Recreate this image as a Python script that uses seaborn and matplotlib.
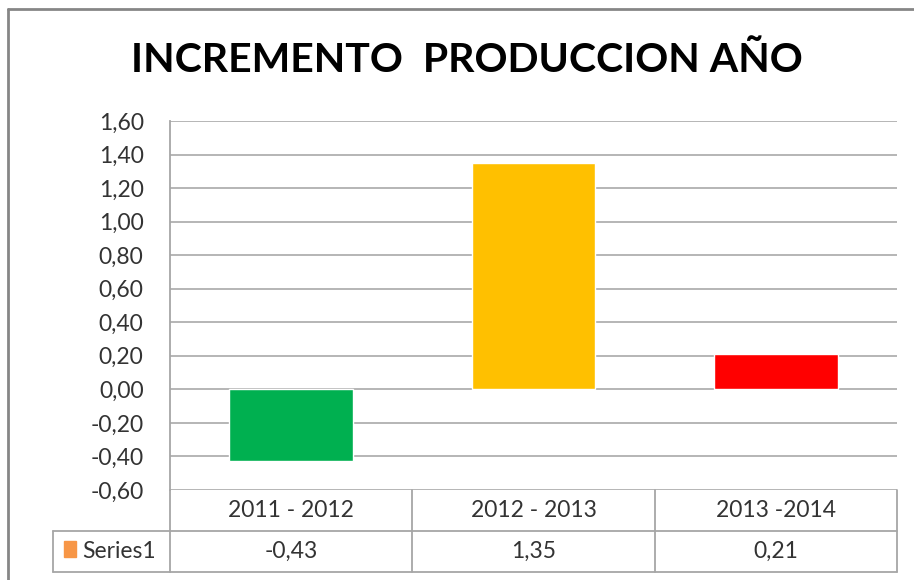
import matplotlib
matplotlib.use("Agg")
import matplotlib.pyplot as plt
from matplotlib.lines import Line2D
from matplotlib.patches import Rectangle
from matplotlib.transforms import blended_transform_factory
import seaborn as sns
import pandas as pd
import numpy as np

# Data
categories = ["2011 - 2012", "2012 - 2013", "2013 -2014"]
values = [-0.43, 1.35, 0.21]
bar_colors = ["#00B050", "#FFC000", "#FF0000"]
series_name = "Series1"
series_color = "#F79646"
y_ticks = [-0.60, -0.40, -0.20, 0.00, 0.20, 0.40, 0.60, 0.80, 1.00, 1.20, 1.40, 1.60]
title = "INCREMENTO  PRODUCCION AÑO"

sns.set_theme(style="white")
plt.rcParams["font.family"] = ["Lato", "DejaVu Sans"]

W, H = 914, 580
fig = plt.figure(figsize=(W / 100, H / 100), dpi=100)

# plot area in pixel coordinates
px_left, px_right, px_top, px_bottom = 170, 897, 121, 490
ax = fig.add_axes([px_left / W, 1 - px_bottom / H,
                   (px_right - px_left) / W, (px_bottom - px_top) / H])

df = pd.DataFrame({"periodo": categories, "valor": values})
sns.barplot(data=df, x="periodo", y="valor", hue="periodo",
            palette=bar_colors, width=0.51, legend=False, ax=ax,
            saturation=1, zorder=3)

ax.set_xlim(-0.5, len(categories) - 0.5)
ax.set_ylim(y_ticks[0], y_ticks[-1])
ax.set_yticks(y_ticks)
ax.set_yticklabels([f"{t:.2f}".replace(".", ",") for t in y_ticks])
ax.yaxis.grid(True, color="#B0B0B0", linewidth=1.3, zorder=0)
ax.set_axisbelow(True)
ax.set_xticks([])
ax.set_xlabel("")
ax.set_ylabel("")
for side in ["top", "right", "bottom"]:
    ax.spines[side].set_visible(False)
ax.spines["left"].set_color("#A6A6A6")
ax.spines["left"].set_linewidth(1.3)
ax.tick_params(axis="y", length=0, pad=19, labelsize=16.5, labelcolor="#333333")

# data table under the plot
def fy(py):
    return 1 - py / H

trans = blended_transform_factory(ax.transData, fig.transFigure)
row1_top, row2_top, row2_bot = 490, 531, 572
line_kw = dict(color="#A6A6A6", linewidth=1.3)
bounds = np.arange(len(categories) + 1) - 0.5
for b in bounds:
    fig.add_artist(Line2D([b, b], [fy(row1_top), fy(row2_bot)], transform=trans, **line_kw))
fig.add_artist(Line2D([bounds[0], bounds[-1]], [fy(row2_bot)] * 2, transform=trans, **line_kw))
fig.add_artist(Line2D([53 / W, px_right / W], [fy(row2_top)] * 2, transform=fig.transFigure, **line_kw))
fig.add_artist(Line2D([53 / W, px_left / W], [fy(row2_bot)] * 2, transform=fig.transFigure, **line_kw))
fig.add_artist(Line2D([53 / W, 53 / W], [fy(row2_top), fy(row2_bot)], transform=fig.transFigure, **line_kw))

for i, (cat, val) in enumerate(zip(categories, values)):
    fig.text(i, fy((row1_top + row2_top) / 2), cat, transform=trans,
             ha="center", va="center", fontsize=16.5, color="#333333")
    fig.text(i, fy((row2_top + row2_bot) / 2), f"{val:.2f}".replace(".", ","),
             transform=trans, ha="center", va="center", fontsize=16.5, color="#333333")

# legend key in table
fig.add_artist(Rectangle((64 / W, fy(557)), 12 / W, 16 / H,
                         transform=fig.transFigure, color=series_color))
fig.text(82 / W, fy((row2_top + row2_bot) / 2), series_name, ha="left", va="center",
         fontsize=16.5, color="#333333")

# title
fig.text(467 / W, fy(61), title, ha="center", va="center", fontsize=29.5,
         fontweight="bold", color="black")

# chart frame
frame_kw = dict(color="#868686", linewidth=2, transform=fig.transFigure)
fig.add_artist(Line2D([8 / W, 8 / W], [fy(9), 0], **frame_kw))
fig.add_artist(Line2D([8 / W, 1], [fy(9), fy(9)], **frame_kw))

fig.savefig("out.png", dpi=100)
